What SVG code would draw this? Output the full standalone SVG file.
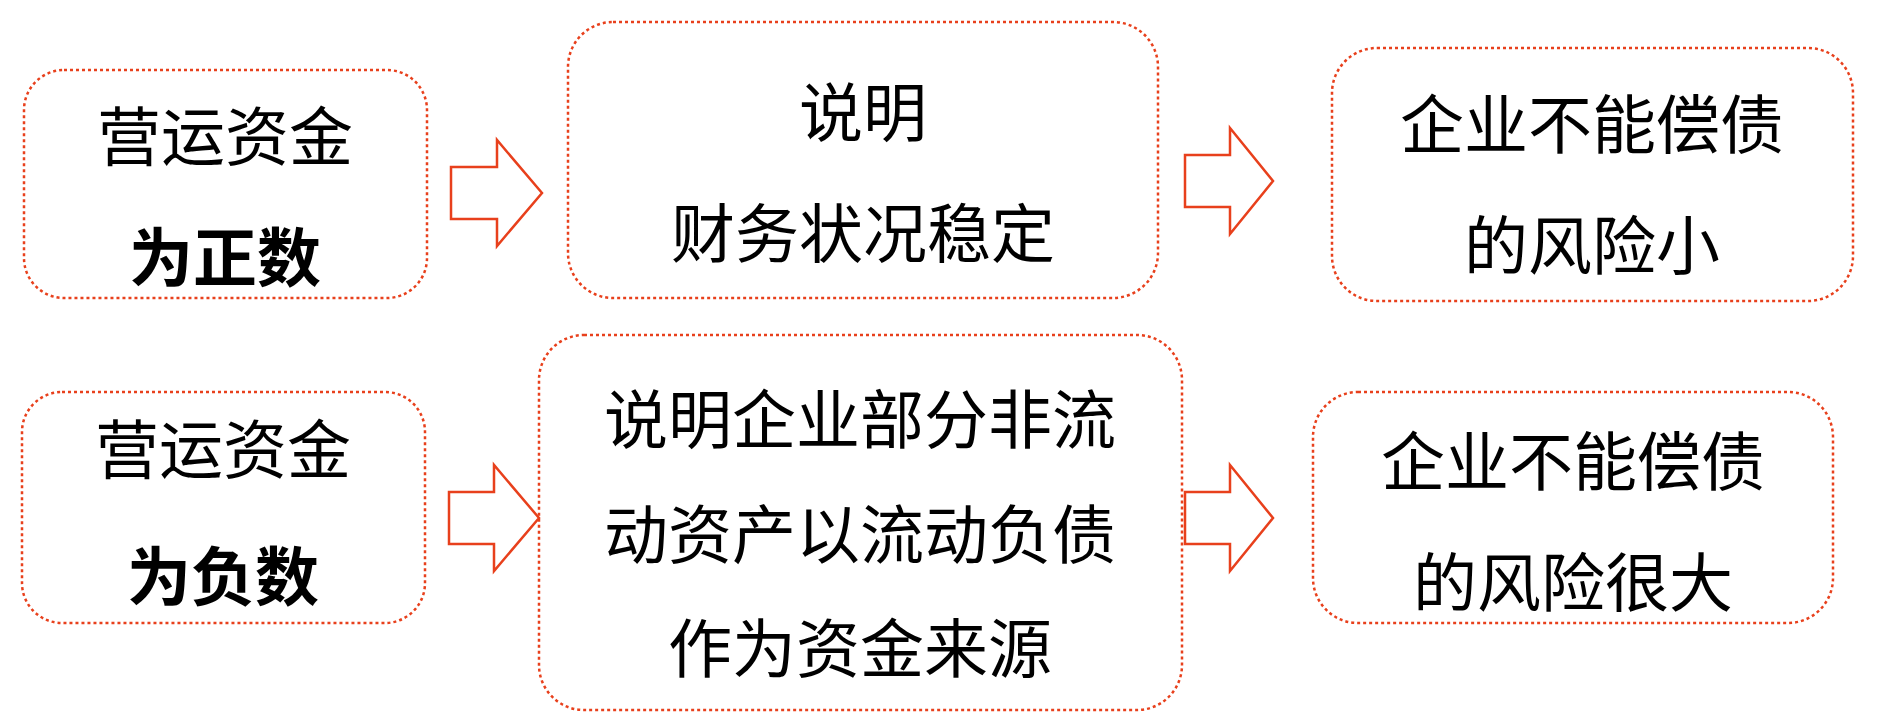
<svg xmlns="http://www.w3.org/2000/svg" width="1887" height="727" viewBox="0 0 1887 727">
<style>
.b{fill:#fff;stroke:#e8401c;stroke-width:2.5;stroke-dasharray:3 3}
.t{font-family:"Noto Sans CJK SC",sans-serif;font-size:64px;fill:#000;text-anchor:middle;dominant-baseline:central}
.bd{font-weight:bold}
.a{fill:#fff;stroke:#e8401c;stroke-width:2.5}
</style>
<rect width="1887" height="727" fill="#fff"/>
<g id="n1"><rect class="b" x="24" y="70" width="403" height="228" rx="40"/><text class="t" x="225" y="132">营运资金</text><text class="t bd" x="225" y="253">为正数</text></g>
<g id="n2"><rect class="b" x="568" y="22" width="590" height="276" rx="45"/><text class="t" x="863" y="108">说明</text><text class="t" x="863" y="229">财务状况稳定</text></g>
<g id="n3"><rect class="b" x="1332" y="48" width="521" height="253" rx="45"/><text class="t" x="1592" y="120">企业不能偿债</text><text class="t" x="1592" y="241">的风险小</text></g>
<g id="n4"><rect class="b" x="22" y="392" width="403" height="231" rx="40"/><text class="t" x="223" y="445">营运资金</text><text class="t bd" x="223" y="572">为负数</text></g>
<g id="n5"><rect class="b" x="539" y="335" width="643" height="375" rx="45"/><text class="t" x="860" y="415">说明企业部分非流</text><text class="t" x="860" y="530">动资产以流动负债</text><text class="t" x="860" y="644">作为资金来源</text></g>
<g id="n6"><rect class="b" x="1313" y="392" width="520" height="231" rx="45"/><text class="t" x="1573" y="457">企业不能偿债</text><text class="t" x="1573" y="578">的风险很大</text></g>
<g id="connectors">
<polygon class="a" points="451,167 497,167 497,140 542,193 497,246 497,219 451,219"/>
<polygon class="a" points="1185,155 1230,155 1230,128 1273,181 1230,234 1230,207 1185,207"/>
<polygon class="a" points="449,492 494,492 494,465 539,518 494,571 494,544 449,544"/>
<polygon class="a" points="1185,492 1230,492 1230,465 1273,518 1230,571 1230,544 1185,544"/>
</g>
</svg>
